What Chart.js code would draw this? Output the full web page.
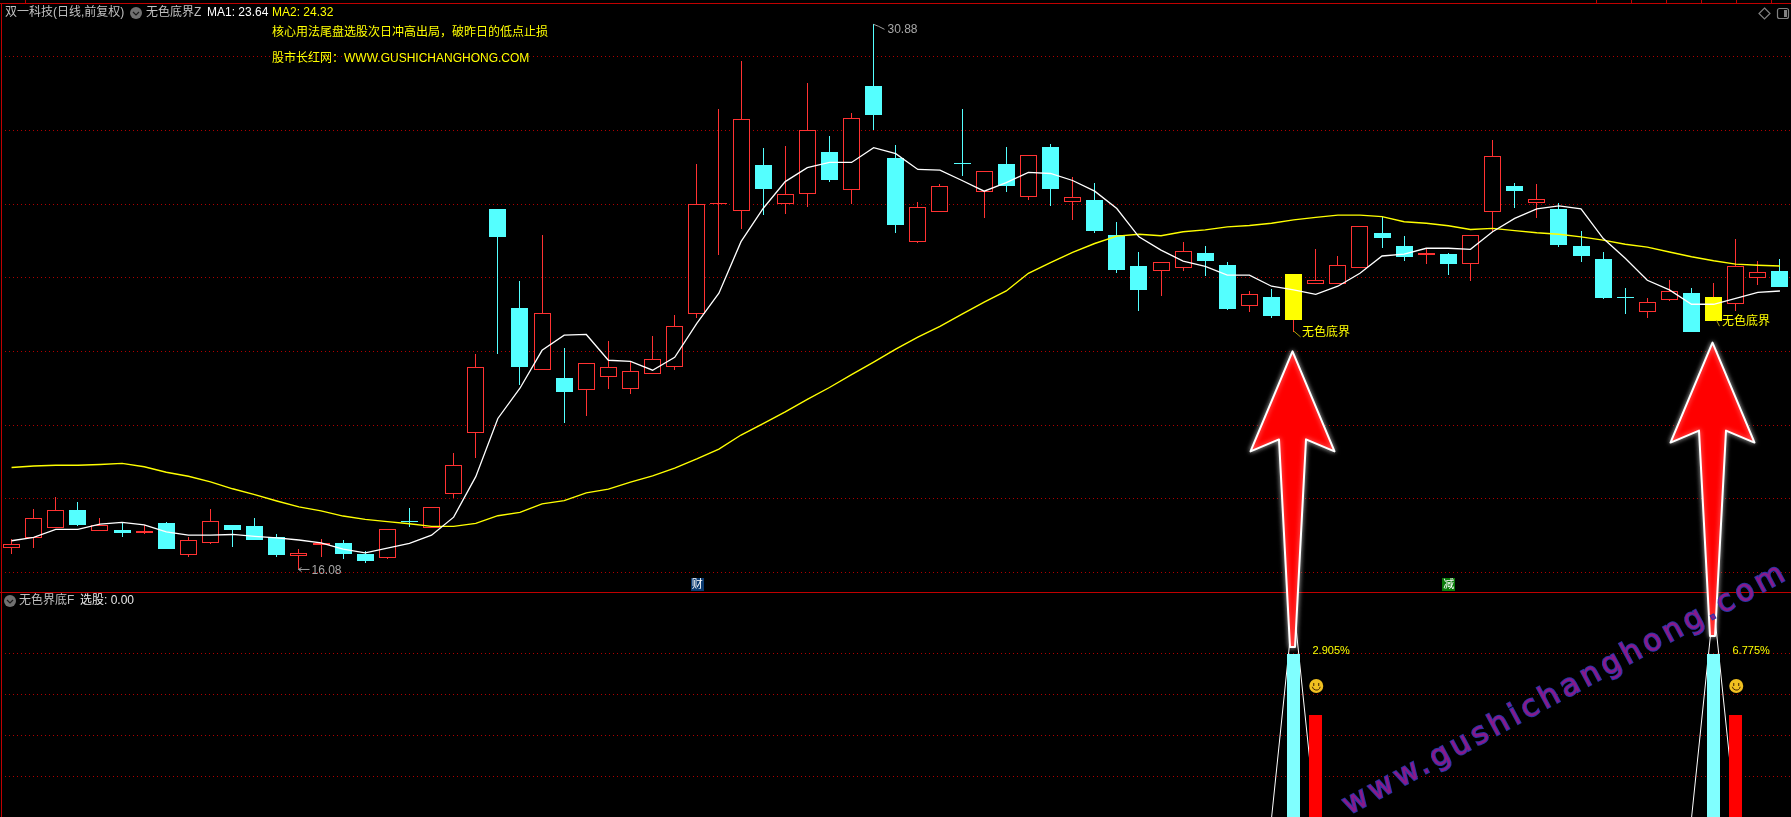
<!DOCTYPE html>
<html>
<head>
<meta charset="utf-8">
<title>无色底界</title>
<script src="https://cdn.jsdelivr.net/npm/chart.js@4/dist/chart.umd.js"></script>
<style>
    html, body { margin: 0; padding: 0; background: #000; overflow: hidden; }
    canvas { display: block; }
</style>
</head>
<body>
<canvas id="panel-chart" width="1791" height="817"></canvas>
<script>
// daily bars
var opens = [
    16.67,16.94,17.21,17.69,17.13,17.15,17.08,17.34,16.48,16.81,
    17.29,17.26,16.95,16.45,16.74,16.80,16.50,16.40,17.39,17.21,
    18.14,19.79,25.87,23.18,21.50,21.28,20.96,21.31,20.99,21.38,
    21.57,23.01,26.01,25.80,27.06,25.99,26.26,27.41,26.39,29.21,
    27.25,24.98,25.79,27.11,26.34,27.09,26.20,27.55,26.06,26.11,
    25.16,24.32,24.18,24.27,24.67,24.35,23.24,23.48,22.85,23.84,
    23.84,24.27,25.21,24.86,24.62,24.64,24.38,25.79,26.49,26.04,
    25.87,24.86,24.51,23.48,23.08,23.40,23.59,22.82,23.29,24.00,24.18
];
var highs = [
    16.91,17.71,18.04,17.91,17.48,17.35,17.29,17.37,16.96,17.71,
    17.29,17.47,17.04,16.63,16.91,16.88,16.58,17.17,17.75,17.77,
    19.23,21.93,25.87,23.91,25.16,22.09,21.68,22.28,21.73,22.42,
    22.99,27.09,28.58,29.88,27.51,27.58,29.28,27.85,28.46,30.88,
    27.60,26.06,26.54,28.58,26.89,27.55,27.32,27.63,26.73,26.57,
    25.51,24.70,24.42,24.97,24.86,24.43,23.64,23.69,24.10,24.78,
    24.59,25.40,25.65,25.13,24.78,24.67,25.15,27.74,26.57,26.54,
    26.02,25.27,24.70,23.72,23.45,23.94,23.72,23.86,25.05,24.45,24.51
];
var lows = [
    16.50,16.66,17.21,17.26,17.13,16.96,17.04,16.63,16.43,16.78,
    16.69,16.88,16.42,16.08,16.42,16.36,16.25,16.36,17.23,17.21,
    18.02,19.11,21.94,21.09,21.50,20.06,20.25,20.98,20.85,21.38,
    21.49,22.91,24.62,25.32,25.70,25.74,25.93,26.60,25.99,28.01,
    25.21,24.94,25.79,26.76,25.62,26.33,26.12,25.95,25.57,25.21,
    24.13,23.10,23.50,24.18,24.05,23.12,23.07,22.91,22.53,23.84,
    23.84,24.27,24.81,24.45,24.37,24.07,23.91,25.23,25.89,25.62,
    24.83,24.43,23.42,23.01,22.91,23.37,22.53,22.82,23.10,23.80,23.75
];
var closes = [
    16.76,17.47,17.69,17.29,17.28,17.07,17.12,16.63,16.87,17.39,
    17.15,16.88,16.47,16.52,16.79,16.50,16.31,17.17,17.38,17.77,
    18.91,21.57,25.11,21.58,23.03,20.90,21.68,21.59,21.46,21.79,
    22.68,25.99,26.02,28.30,26.41,26.26,28.00,26.65,28.33,28.42,
    25.43,25.91,26.48,27.09,26.89,26.49,27.32,26.41,26.18,25.27,
    24.21,23.67,24.42,24.72,24.45,23.15,23.55,22.96,24.10,23.93,
    24.34,25.40,25.08,24.56,24.67,24.37,25.15,27.30,26.35,26.13,
    24.89,24.59,23.45,23.46,23.33,23.63,22.53,23.48,24.31,24.15,23.75
];
var ma1 = [
    16.86,16.95,17.17,17.17,17.31,17.36,17.29,17.10,17.01,17.01,
    17.03,16.98,16.94,16.88,16.80,16.63,16.53,16.66,16.79,17.01,
    17.50,18.60,20.18,21.00,22.03,22.44,22.46,21.76,21.73,21.49,
    21.84,22.76,23.58,24.98,25.88,26.61,26.99,27.13,27.13,27.53,
    27.37,26.94,26.92,26.64,26.35,26.58,26.86,26.83,26.64,26.35,
    25.88,25.11,24.75,24.45,24.31,24.07,24.07,23.77,23.67,23.55,
    23.77,24.12,24.59,24.64,24.80,24.80,24.77,25.25,25.61,25.87,
    25.95,25.87,25.07,24.53,23.93,23.67,23.28,23.28,23.44,23.60,23.64
];
var ma2 = [
    18.85,18.89,18.91,18.91,18.93,18.96,18.87,18.72,18.61,18.46,
    18.27,18.11,17.94,17.78,17.67,17.53,17.44,17.38,17.32,17.25,
    17.25,17.33,17.54,17.63,17.86,17.95,18.16,18.26,18.45,18.62,
    18.83,19.08,19.35,19.73,20.04,20.36,20.70,21.02,21.37,21.71,
    22.06,22.39,22.68,23.01,23.34,23.64,24.12,24.41,24.69,24.93,
    25.13,25.18,25.14,25.25,25.30,25.38,25.42,25.48,25.57,25.64,
    25.70,25.70,25.66,25.52,25.48,25.41,25.31,25.34,25.28,25.22,
    25.18,25.11,25.02,24.91,24.83,24.70,24.57,24.46,24.37,24.34,24.32
];
var categories = opens.map(function(v, i){ return i; });

// lower panel, index 选股 signal
var signalDays = [58, 77];
var signalValues = [40, 40];
var signalPeaks = [52, 52];
var followDays = [59, 78];
var followValues = [25, 25];
var gains = ["2.905%", "6.775%"];
var arrowTips = [22.0, 22.24];
var arrowFoots = [41.7, 44.4];

var priceTicks = [16, 18, 20, 22, 24, 26, 28, 30];
var indexTicks = [10, 20, 30, 40];
var topMarks = [25, 1596, 1631, 1666, 1701, 1736, 1771];

var HIGHLIGHT_COLOR = "#ffff00";
var UP_COLOR = "#ff3232";
var DOWN_COLOR = "#54ffff";
var FRAME_COLOR = "#c00000";
var GRID_COLOR = "#b00000";
var GREY_TEXT = "#c0c0c0";
var FONT = '"Liberation Sans", "Noto Sans CJK SC", sans-serif';

function isUp(i) { return closes[i] >= opens[i]; }
function onDay(days, values) {
    return categories.map(function(i){
        var pos = days.indexOf(i);
        return pos < 0 ? null : values[pos];
    });
}

var wickData = categories.map(function(i){ return [lows[i], highs[i]]; });
var bodyData = categories.map(function(i){ return [opens[i], closes[i]]; });
var wickColors = categories.map(function(i){ return isUp(i) ? UP_COLOR : DOWN_COLOR; });
var bodyFill = categories.map(function(i){
    if (signalDays.indexOf(i) >= 0) return HIGHLIGHT_COLOR;
    return isUp(i) ? "#000000" : DOWN_COLOR;
});
var bodyBorder = categories.map(function(i){
    if (signalDays.indexOf(i) >= 0) return HIGHLIGHT_COLOR;
    return isUp(i) ? UP_COLOR : DOWN_COLOR;
});
var signalLine = categories.map(function(i){
    var pos = signalDays.indexOf(i);
    return pos < 0 ? 0 : signalPeaks[pos];
});

// bars land on whole pixels, the original is not antialiased
var pixelSnap = {
    id: "pixelSnap",
    afterDatasetsUpdate: function(chart){
        chart.data.datasets.forEach(function(ds, d){
            if (ds.type !== "bar") return;
            chart.getDatasetMeta(d).data.forEach(function(el){
                if (el.skip) return;
                el.x = Math.floor(el.x) + 0.5;
                el.y = Math.round(el.y);
                el.base = Math.round(el.base);
                if (el.y === el.base) el.base = el.y + 1;
            });
        });
    }
};

function text(ctx, str, x, y, color, size, align) {
    ctx.font = (size || 12) + "px " + FONT;
    ctx.fillStyle = color;
    ctx.textAlign = align || "left";
    ctx.textBaseline = "middle";
    ctx.fillText(str, x, y);
}

function chevronIcon(ctx, x, y) {
    ctx.beginPath();
    ctx.arc(x, y, 6, 0, Math.PI * 2);
    ctx.fillStyle = "#707070";
    ctx.fill();
    ctx.beginPath();
    ctx.moveTo(x - 3, y - 1);
    ctx.lineTo(x, y + 2);
    ctx.lineTo(x + 3, y - 1);
    ctx.strokeStyle = "#1a1a1a";
    ctx.lineWidth = 1.2;
    ctx.stroke();
}

function smiley(ctx, x, y) {
    ctx.beginPath();
    ctx.arc(x, y, 7, 0, Math.PI * 2);
    ctx.fillStyle = "#f0c020";
    ctx.fill();
    ctx.fillStyle = "#402000";
    ctx.fillRect(x - 3, y - 3, 1, 3);
    ctx.fillRect(x + 2, y - 3, 1, 3);
    ctx.beginPath();
    ctx.arc(x, y, 4, 0.2, Math.PI - 0.2);
    ctx.strokeStyle = "#402000";
    ctx.lineWidth = 1;
    ctx.stroke();
}

function bigArrow(ctx, x, tipY, footY) {
    ctx.save();
    ctx.beginPath();
    ctx.moveTo(x, tipY);
    ctx.lineTo(x + 42, tipY + 100);
    ctx.lineTo(x + 13.5, tipY + 88);
    ctx.lineTo(x + 2.5, footY);
    ctx.lineTo(x - 2.5, footY);
    ctx.lineTo(x - 13.5, tipY + 88);
    ctx.lineTo(x - 42, tipY + 100);
    ctx.closePath();
    ctx.lineJoin = "round";
    ctx.shadowColor = "rgba(255,255,255,0.6)";
    ctx.shadowBlur = 5;
    ctx.fillStyle = "#ff0000";
    ctx.fill();
    ctx.strokeStyle = "#ffffff";
    ctx.lineWidth = 2;
    ctx.stroke();
    ctx.restore();
}

var overlays = {
    id: "overlays",
    afterDatasetsDraw: function(chart){
        var ctx = chart.ctx;
        var xs = chart.scales.x, ys = chart.scales.y, ys2 = chart.scales.y2;

        ctx.save();

        // frame
        ctx.fillStyle = FRAME_COLOR;
        ctx.fillRect(0, 3, 1791, 1);
        ctx.fillRect(0, 592, 1791, 1);
        ctx.fillRect(1, 3, 1, 814);
        topMarks.forEach(function(x){ ctx.fillRect(x, 0, 1, 3); });

        // 财 / 减 markers sit on the panel split
        [[31, "财", "#0a3a70"], [65, "减", "#0a7a0a"]].forEach(function(m){
            var mx = xs.getPixelForValue(m[0]);
            ctx.fillStyle = m[2];
            ctx.fillRect(Math.round(mx) - 6, 578, 13, 13);
            text(ctx, m[1], mx + 0.5, 585, "#ffffff", 11, "center");
        });

        // high / low tags
        var hx = Math.floor(xs.getPixelForValue(39)) + 0.5, hy = ys.getPixelForValue(highs[39]);
        ctx.strokeStyle = "#a0a0a0";
        ctx.lineWidth = 1;
        ctx.beginPath();
        ctx.moveTo(hx, hy);
        ctx.lineTo(hx + 5, hy + 2);
        ctx.lineTo(hx + 11, hy + 5);
        ctx.stroke();
        text(ctx, highs[39].toFixed(2), hx + 14, hy + 5, "#a8a8a8", 12);

        var lx = Math.floor(xs.getPixelForValue(13)) + 0.5, ly = ys.getPixelForValue(lows[13]);
        ctx.beginPath();
        ctx.moveTo(lx, ly);
        ctx.lineTo(lx + 11, ly);
        ctx.moveTo(lx, ly);
        ctx.lineTo(lx + 3, ly - 2);
        ctx.moveTo(lx, ly);
        ctx.lineTo(lx + 3, ly + 2);
        ctx.stroke();
        text(ctx, lows[13].toFixed(2), lx + 13, ly + 1, "#a8a8a8", 12);

        // signal day tags, arrows and the lower panel notes
        signalDays.forEach(function(day, n){
            var x = Math.floor(xs.getPixelForValue(day)) + 0.5;
            var tagY = ys.getPixelForValue(lows[day]);
            ctx.strokeStyle = "#b0a000";
            ctx.beginPath();
            ctx.moveTo(x + (n === 0 ? 0 : 3), tagY - 1);
            ctx.lineTo(x + (n === 0 ? 7 : 6), tagY + 5);
            ctx.stroke();
            text(ctx, "无色底界", x + 8.5, tagY + 1 - (n === 0 ? 0 : 1), HIGHLIGHT_COLOR, 12);

            text(ctx, gains[n], x + 19, 651, HIGHLIGHT_COLOR, 11);
            smiley(ctx, xs.getPixelForValue(followDays[n]) + 0.5, 686);
            bigArrow(ctx, x - 1, ys.getPixelForValue(arrowTips[n]), ys2.getPixelForValue(arrowFoots[n]));
        });

        // header lines
        text(ctx, "双一科技(日线,前复权)", 5, 13, GREY_TEXT);
        chevronIcon(ctx, 136, 13);
        text(ctx, "无色底界Z", 146, 13, GREY_TEXT);
        text(ctx, "MA1: " + ma1[ma1.length - 1].toFixed(2), 207, 13, "#ffffff");
        text(ctx, "MA2: " + ma2[ma2.length - 1].toFixed(2), 272, 13, HIGHLIGHT_COLOR);
        text(ctx, "核心用法尾盘选股次日冲高出局，破昨日的低点止损", 272, 32.5, HIGHLIGHT_COLOR);
        text(ctx, "股市长红网：", 272, 59, HIGHLIGHT_COLOR);
        text(ctx, "WWW.GUSHICHANGHONG.COM", 344, 59, HIGHLIGHT_COLOR);
        chevronIcon(ctx, 10, 601);
        text(ctx, "无色界底F", 19, 601, GREY_TEXT);
        text(ctx, "选股: 0.00", 80, 601, "#e8e8e8");

        // corner buttons
        ctx.strokeStyle = "#808080";
        ctx.beginPath();
        ctx.moveTo(1764.5, 8);
        ctx.lineTo(1770, 13.5);
        ctx.lineTo(1764.5, 19);
        ctx.lineTo(1759, 13.5);
        ctx.closePath();
        ctx.stroke();
        ctx.beginPath();
        ctx.roundRect(1777.5, 8.5, 11, 10, 2);
        ctx.stroke();
        ctx.fillStyle = "#808080";
        ctx.fillRect(1784, 10, 3, 7);

        // watermark
        ctx.translate(1349, 815);
        ctx.rotate(-28.3 * Math.PI / 180);
        ctx.font = '30px "DejaVu Sans", sans-serif';
        ctx.letterSpacing = "4.5px";
        ctx.textAlign = "left";
        ctx.textBaseline = "alphabetic";
        ctx.lineWidth = 2;
        ctx.strokeStyle = "#2a35a8";
        ctx.strokeText("www.gushichanghong.com", 0, 0);
        ctx.fillStyle = "#8a1a8a";
        ctx.fillText("www.gushichanghong.com", 0, 0);

        ctx.restore();
    }
};

new Chart(document.getElementById("panel-chart"), {
    data: {
        labels: categories,
        datasets: [
            { type: "line", label: "signalLine", data: signalLine, yAxisID: "y2", order: 6,
              borderColor: "#ffffff", borderWidth: 1, pointRadius: 0, tension: 0 },
            { type: "bar", label: "signal", data: onDay(signalDays, signalValues), yAxisID: "y2", order: 5,
              grouped: false, barThickness: 13, backgroundColor: "#80ffff", inflateAmount: 0 },
            { type: "bar", label: "follow", data: onDay(followDays, followValues), yAxisID: "y2", order: 5,
              grouped: false, barThickness: 13, backgroundColor: "#ff0000", inflateAmount: 0 },
            { type: "bar", label: "wick", data: wickData, yAxisID: "y", order: 4,
              grouped: false, barThickness: 1, backgroundColor: wickColors, borderWidth: 0, inflateAmount: 0 },
            { type: "bar", label: "body", data: bodyData, yAxisID: "y", order: 3,
              grouped: false, barThickness: 17, backgroundColor: bodyFill, borderColor: bodyBorder,
              borderWidth: 1, borderSkipped: false, inflateAmount: 0 },
            { type: "line", label: "MA2", data: ma2, yAxisID: "y", order: 2,
              borderColor: HIGHLIGHT_COLOR, borderWidth: 1.4, pointRadius: 0, tension: 0 },
            { type: "line", label: "MA1", data: ma1, yAxisID: "y", order: 1,
              borderColor: "#ffffff", borderWidth: 1.3, pointRadius: 0, tension: 0 }
        ]
    },
    options: {
        responsive: false,
        animation: false,
        devicePixelRatio: 1,
        layout: { padding: { left: 0.5, right: 0, top: 0, bottom: 0 } },
        plugins: { legend: { display: false }, tooltip: { enabled: false }, title: { display: false } },
        scales: {
            x: { type: "category", display: false, offset: true },
            y: {
                type: "linear",
                position: "left",
                min: 9.36,
                max: 31.54,
                afterBuildTicks: function(s){ s.ticks = priceTicks.map(function(v){ return { value: v }; }); },
                ticks: { display: false },
                border: { display: false, dash: [1, 3] },
                grid: { color: GRID_COLOR, lineWidth: 1, drawTicks: false }
            },
            y2: {
                type: "linear",
                position: "left",
                min: 0.24,
                max: 199.5,
                afterBuildTicks: function(s){ s.ticks = indexTicks.map(function(v){ return { value: v }; }); },
                ticks: { display: false },
                border: { display: false, dash: [1, 3] },
                grid: { color: GRID_COLOR, lineWidth: 1, drawTicks: false }
            }
        }
    },
    plugins: [pixelSnap, overlays]
});
</script>
</body>
</html>
